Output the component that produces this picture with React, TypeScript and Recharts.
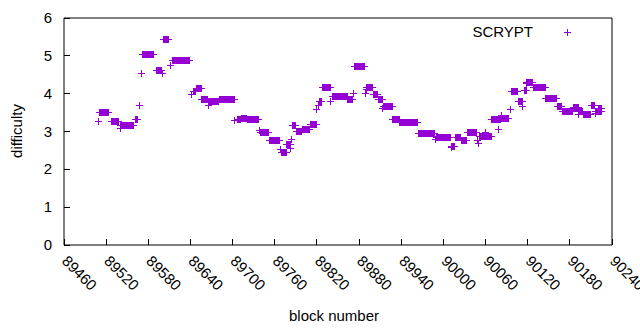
import { ScatterChart, Scatter, XAxis, YAxis, Label } from 'recharts';

// difficulty is constant over runs of consecutive blocks: first block, last block, value
const runStart = [
  89509, 89510, 89527, 89540, 89541, 89562, 89568, 89570, 89572, 89591,
  89600, 89602, 89611, 89615, 89641, 89644, 89648, 89656, 89665, 89666,
  89681, 89703, 89707, 89713, 89721, 89738, 89739, 89752, 89768, 89770,
  89777, 89783, 89784, 89785, 89791, 89799, 89811, 89820, 89822, 89823,
  89828, 89840, 89842, 89864, 89872, 89873, 89889, 89890, 89891, 89900,
  89907, 89914, 89915, 89928, 89938, 89964, 89989, 89990, 90011, 90012,
  90017, 90026, 90034, 90049, 90050, 90051, 90060, 90069, 90079, 90082,
  90083, 90095, 90097, 90107, 90113, 90115, 90118, 90119, 90128, 90146,
  90162, 90169, 90185, 90192, 90194, 90199, 90211, 90216, 90217, 90221,
];
const runEnd = [
  89509, 89524, 89538, 89540, 89559, 89565, 89568, 89570, 89588, 89599,
  89600, 89609, 89611, 89639, 89641, 89647, 89655, 89664, 89665, 89680,
  89702, 89703, 89711, 89720, 89737, 89738, 89751, 89767, 89768, 89776,
  89782, 89783, 89784, 89790, 89798, 89810, 89819, 89820, 89822, 89826,
  89839, 89840, 89863, 89871, 89872, 89888, 89889, 89890, 89899, 89906,
  89913, 89914, 89927, 89937, 89963, 89988, 89989, 90010, 90011, 90016,
  90025, 90033, 90047, 90049, 90050, 90068, 90060, 90081, 90079, 90092,
  90083, 90095, 90106, 90112, 90113, 90118, 90118, 90127, 90145, 90161,
  90168, 90184, 90193, 90192, 90198, 90210, 90215, 90225, 90217, 90225,
];
const runDiff = [
  3.26, 3.49, 3.27, 3.09, 3.16, 3.31, 3.7, 4.54, 5.04, 4.62,
  4.54, 5.44, 4.75, 4.88, 3.99, 4.05, 4.13, 3.85, 3.69, 3.78,
  3.85, 3.28, 3.31, 3.35, 3.33, 3.02, 2.97, 2.76, 2.53, 2.44,
  2.66, 2.56, 2.78, 3.17, 3.0, 3.06, 3.19, 3.59, 3.7, 3.79,
  4.15, 3.79, 3.92, 3.84, 4.0, 4.72, 4.01, 4.12, 4.17, 3.98,
  3.85, 3.62, 3.66, 3.33, 3.23, 2.95, 2.78, 2.85, 2.58, 2.6,
  2.85, 2.77, 2.98, 2.75, 2.69, 2.86, 2.97, 3.33, 3.04, 3.35,
  3.41, 3.59, 4.06, 3.79, 3.66, 4.08, 4.28, 4.29, 4.17, 3.88,
  3.66, 3.53, 3.64, 3.44, 3.53, 3.44, 3.69, 3.53, 3.47, 3.62,
];

const xTicks = [89460, 89520, 89580, 89640, 89700, 89760, 89820, 89880, 89940, 90000, 90060, 90120, 90180, 90240];
const yTicks = [0, 1, 2, 3, 4, 5, 6];

const COLOR = '#9400d3';
const FONT = '"Liberation Sans", Arial, sans-serif';

const points = runStart.flatMap((start, i) => {
  const out: { block: number; difficulty: number }[] = [];
  for (let b = start; b <= runEnd[i]; b++) out.push({ block: b, difficulty: runDiff[i] });
  return out;
});

function Plus({ cx, cy }: any) {
  return (
    <path
      d={`M${cx - 3.5},${cy}H${cx + 3.5}M${cx},${cy - 3.5}V${cy + 3.5}`}
      stroke={COLOR}
      strokeWidth={1}
      shapeRendering="crispEdges"
    />
  );
}

function BottomTick({ x, y, payload }: any) {
  const ax = x - 3;
  const ay = y + 17;
  return (
    <g>
      <line x1={x} y1={y} x2={x} y2={y - 6} stroke="#000" shapeRendering="crispEdges" />
      <text x={ax} y={ay} transform={`rotate(45, ${ax}, ${ay})`} fontSize={15} fontFamily={FONT} fill="#000">
        {payload.value}
      </text>
    </g>
  );
}

function TopTick({ x, y }: any) {
  return <line x1={x} y1={y} x2={x} y2={y + 6} stroke="#000" shapeRendering="crispEdges" />;
}

function LeftTick({ x, y, payload }: any) {
  return (
    <g>
      <line x1={x} y1={y} x2={x + 6} y2={y} stroke="#000" shapeRendering="crispEdges" />
      <text x={x - 12} y={y + 5} textAnchor="end" fontSize={15} fontFamily={FONT} fill="#000">
        {payload.value}
      </text>
    </g>
  );
}

function RightTick({ x, y }: any) {
  return <line x1={x} y1={y} x2={x - 6} y2={y} stroke="#000" shapeRendering="crispEdges" />;
}

function LegendBox() {
  return (
    <svg width={640} height={40} style={{ position: 'absolute', left: 0, top: 0, pointerEvents: 'none' }}>
      <text x={533} y={37} textAnchor="end" fontSize={15} fontFamily={FONT} fill="#000">
        SCRYPT
      </text>
      <path d="M563.5,32.5H570.5M567,29V36" stroke={COLOR} strokeWidth={1} shapeRendering="crispEdges" />
    </svg>
  );
}

export default function App() {
  return (
    <div style={{ position: 'absolute', left: 0, top: 0, width: 640, height: 330, background: '#fff' }}>
      <ScatterChart width={640} height={330} margin={{ top: 0, right: 0, bottom: 0, left: 0 }}>
        <XAxis
          xAxisId="bottom"
          dataKey="block"
          type="number"
          domain={[89460, 90240]}
          ticks={xTicks}
          interval={0}
          height={85}
          stroke="#000"
          tickLine={false}
          tickSize={0}
          tickMargin={0}
          tick={<BottomTick />}
        >
          <Label
            content={() => (
              <text x={334} y={321} textAnchor="middle" fontSize={15} fontFamily={FONT} fill="#000">
                block number
              </text>
            )}
          />
        </XAxis>
        <XAxis
          xAxisId="top"
          orientation="top"
          type="number"
          domain={[89460, 90240]}
          ticks={xTicks}
          interval={0}
          height={18}
          stroke="#000"
          tickLine={false}
          tickSize={0}
          tickMargin={0}
          tick={<TopTick />}
        />
        <YAxis
          yAxisId="left"
          dataKey="difficulty"
          type="number"
          domain={[0, 6]}
          ticks={yTicks}
          interval={0}
          width={64}
          stroke="#000"
          tickLine={false}
          tickSize={0}
          tickMargin={0}
          tick={<LeftTick />}
        >
          <Label
            content={() => (
              <text x={22} y={131} textAnchor="middle" transform="rotate(-90, 22, 131)" fontSize={15} fontFamily={FONT} fill="#000">
                difficulty
              </text>
            )}
          />
        </YAxis>
        <YAxis
          yAxisId="right"
          orientation="right"
          type="number"
          domain={[0, 6]}
          ticks={yTicks}
          interval={0}
          width={28}
          stroke="#000"
          tickLine={false}
          tickSize={0}
          tickMargin={0}
          tick={<RightTick />}
        />
        <Scatter
          name="SCRYPT"
          data={points}
          xAxisId="bottom"
          yAxisId="left"
          fill={COLOR}
          shape={<Plus />}
          isAnimationActive={false}
        />
      </ScatterChart>
      <LegendBox />
    </div>
  );
}
